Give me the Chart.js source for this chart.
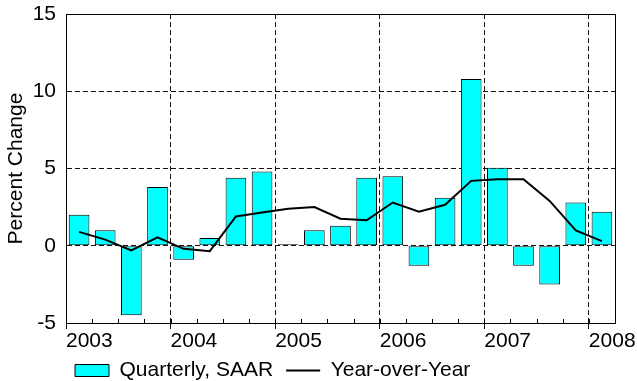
<!DOCTYPE html>
<html>
<head>
<meta charset="utf-8">
<script src="https://cdn.jsdelivr.net/npm/chart.js@4.4.1/dist/chart.umd.min.js"></script>
<style>
  html, body { margin: 0; padding: 0; background: #fff; }
  #wrap { width: 637px; height: 381px; }
</style>
</head>
<body>
<div id="wrap"><canvas id="quarterlyChart" width="637" height="381"></canvas></div>
<script>
var quarters = [
  "2003Q1", "2003Q2", "2003Q3", "2003Q4",
  "2004Q1", "2004Q2", "2004Q3", "2004Q4",
  "2005Q1", "2005Q2", "2005Q3", "2005Q4",
  "2006Q1", "2006Q2", "2006Q3", "2006Q4",
  "2007Q1", "2007Q2", "2007Q3", "2007Q4",
  "2008Q1"
];
var quarterlySaar = [
  2.0, 1.0, -4.5, 3.8,
  -0.9, 0.5, 4.4, 4.8,
  0.1, 1.0, 1.3, 4.4,
  4.5, -1.3, 3.1, 10.8,
  5.05, -1.3, -2.5, 2.8,
  2.2
];
var yearOverYear = [
  0.9, 0.4, -0.3, 0.55,
  -0.2, -0.35, 1.9, 2.15,
  2.4, 2.5, 1.75, 1.65,
  2.8, 2.2, 2.65, 4.2,
  4.3, 4.3, 2.9, 1.0,
  0.3
];
var yearLabels = ["2003", "2004", "2005", "2006", "2007", "2008"];
var yTicks = [-5, 0, 5, 10, 15];

var myQuarterlyChart;

// each quarter gets one unit on the x axis, bar sits in the middle of it
function toPoints(values) {
  return values.map(function (v, i) {
    return { x: i + 0.5, y: v };
  });
}

var frameAndMinorTicks = {
  id: "frameAndMinorTicks",
  afterLayout: function (chart) {
    // legend starts further left than chart.js would centre it
    chart.legend.left = 62;
  },
  afterDraw: function (chart) {
    var ctx = chart.ctx;
    var area = chart.chartArea;
    var xScale = chart.scales.x;
    ctx.save();
    ctx.strokeStyle = "#000";
    ctx.lineWidth = 1;
    ctx.strokeRect(
      Math.round(area.left) + 0.5,
      Math.round(area.top) + 0.5,
      Math.round(area.right - area.left),
      Math.round(area.bottom - area.top)
    );
    ctx.beginPath();
    for (var i = 1; i < quarters.length; i++) {
      var px = Math.round(xScale.getPixelForValue(i)) + 0.5;
      ctx.moveTo(px, area.bottom);
      ctx.lineTo(px, area.bottom - 4);
    }
    ctx.stroke();
    ctx.restore();
  },
};

function renderQuarterlyChart() {
  try {
    if (myQuarterlyChart) {
      myQuarterlyChart.destroy();
    }
    Chart.defaults.font.family = "'Liberation Sans', Arial, sans-serif";
    Chart.defaults.font.size = 21;
    Chart.defaults.color = "#000";

    var canvas = document.getElementById("quarterlyChart");
    var ctx = canvas.getContext("2d");
    myQuarterlyChart = new Chart(ctx, {
      type: "bar",
      data: {
        datasets: [
          {
            type: "bar",
            label: "Quarterly, SAAR",
            data: toPoints(quarterlySaar),
            backgroundColor: "#00FFFF",
            borderColor: "#000",
            borderWidth: 1,
            borderSkipped: false,
            categoryPercentage: 1,
            barPercentage: 0.79,
            order: 2,
          },
          {
            type: "line",
            label: "Year-over-Year",
            data: toPoints(yearOverYear),
            borderColor: "#000",
            borderWidth: 2,
            pointRadius: 0,
            pointBorderWidth: 2,
            pointBorderColor: "#000",
            pointBackgroundColor: "#000",
            tension: 0,
            order: 1,
          },
        ],
      },
      options: {
        responsive: false,
        animation: false,
        layout: {
          padding: { top: 14, right: 22, bottom: 0, left: 0 },
        },
        scales: {
          x: {
            type: "linear",
            min: 0,
            max: quarters.length,
            offset: false,
            afterFit: function (scale) {
              scale.height = 24;
            },
            grid: {
              offset: false,
              color: function (c) {
                return c.tick && c.tick.value % 4 === 0 ? "#111" : "rgba(0,0,0,0)";
              },
              tickColor: function (c) {
                return c.tick && c.tick.value % 4 === 0 ? "#111" : "rgba(0,0,0,0)";
              },
              tickLength: 6,
              lineWidth: 1,
            },
            border: { display: true, color: "#000", width: 1, dash: [5, 3] },
            ticks: {
              stepSize: 1,
              autoSkip: false,
              maxRotation: 0,
              align: "start",
              padding: 0,
              callback: function (value) {
                if (value % 4 === 0) {
                  return yearLabels[value / 4];
                }
                return "";
              },
            },
          },
          y: {
            min: yTicks[0],
            max: yTicks[yTicks.length - 1],
            afterFit: function (scale) {
              scale.width = 66;
            },
            title: {
              display: true,
              text: "Percent Change",
              padding: { top: 4, bottom: 0 },
            },
            grid: {
              color: "#111",
              lineWidth: 1,
              drawTicks: true,
              tickLength: 10,
              tickColor: "rgba(0,0,0,0)",
            },
            border: { display: true, color: "#000", width: 1, dash: [5, 3] },
            ticks: {
              stepSize: 5,
              padding: 0,
            },
          },
        },
        plugins: {
          tooltip: { enabled: false },
          legend: {
            display: true,
            position: "bottom",
            align: "start",
            maxHeight: 34,
            labels: {
              usePointStyle: true,
              pointStyleWidth: 34,
              boxHeight: 12,
              padding: 13,
              sort: function (a, b) {
                return a.datasetIndex - b.datasetIndex;
              },
              generateLabels: function (chart) {
                var items = Chart.defaults.plugins.legend.labels.generateLabels(chart);
                items.forEach(function (item) {
                  if (item.datasetIndex === 0) {
                    item.pointStyle = "rect";
                    item.fillStyle = "#00FFFF";
                    item.strokeStyle = "#000";
                    item.lineWidth = 1;
                  } else {
                    item.pointStyle = "line";
                    item.strokeStyle = "#000";
                    item.lineWidth = 2;
                  }
                });
                return items;
              },
            },
          },
        },
      },
      plugins: [frameAndMinorTicks],
    });
  } catch (error) {
    console.log(error);
  }
}

renderQuarterlyChart();
</script>
</body>
</html>
